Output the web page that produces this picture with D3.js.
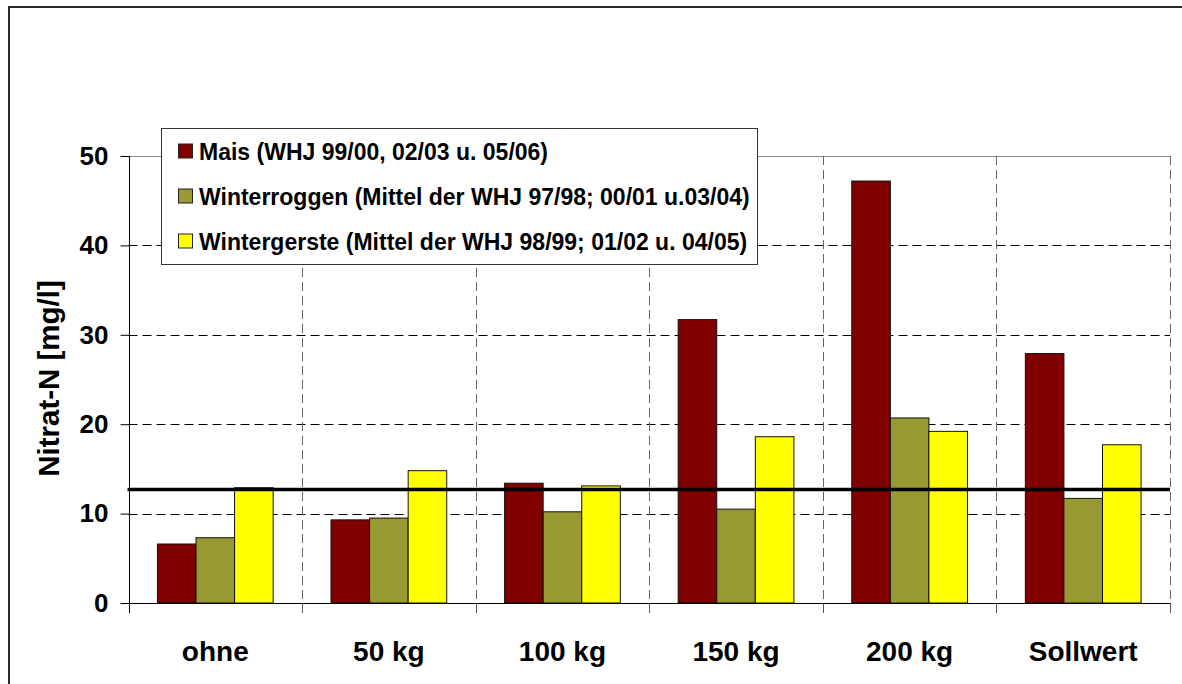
<!DOCTYPE html>
<html>
<head>
<meta charset="utf-8">
<script src="https://cdn.jsdelivr.net/npm/d3@7"></script>
<style>
  html, body { margin: 0; padding: 0; background: #fff; }
  svg { display: block; font-family: "Liberation Sans", Arial, sans-serif; font-weight: bold; }
</style>
</head>
<body>
<svg id="chart" width="1182" height="684"></svg>
<script>
// Nitrate-N in seepage water by N fertilisation level and crop
const categories = ["ohne", "50 kg", "100 kg", "150 kg", "200 kg", "Sollwert"];
const seriesNames = [
  "Mais (WHJ 99/00, 02/03 u. 05/06)",
  "Winterroggen (Mittel der WHJ 97/98; 00/01 u.03/04)",
  "Wintergerste (Mittel der WHJ 98/99; 01/02 u. 04/05)"
];
const mais         = [6.6, 9.3, 13.4, 31.7, 47.2, 27.9];
const winterroggen = [7.3, 9.5, 10.2, 10.5, 20.7, 11.7];
const wintergerste = [12.9, 14.8, 13.1, 18.6, 19.2, 17.7];
const seriesColors = ["#800000", "#999933", "#ffff00"];
const yTicks = [0, 10, 20, 30, 40, 50];
const limitValue = 12.7;   // reference limit line
const yTitle = "Nitrat-N [mg/l]";

const seriesValues = [mais, winterroggen, wintergerste];

const svg = d3.select("#chart");

// outer frame
svg.append("rect")
  .attr("x", 9).attr("y", 7).attr("width", 1200).attr("height", 700)
  .attr("fill", "none").attr("stroke", "#2a2a2a").attr("stroke-width", 2);

const plot = { left: 128.5, right: 1170, top: 156, bottom: 603 };

const x0 = d3.scaleBand().domain(categories).range([plot.left, plot.right]).padding(0);
const x1 = d3.scaleBand().domain(d3.range(seriesNames.length))
  .range([0, x0.bandwidth()]).paddingInner(0).paddingOuter(0.75);
const y = d3.scaleLinear().domain([0, 50]).range([plot.bottom, plot.top]);

// horizontal gridlines
svg.append("g").selectAll("line")
  .data(yTicks.filter(t => t > 0 && t < 50))
  .join("line")
  .attr("x1", plot.left).attr("x2", plot.right)
  .attr("y1", d => Math.round(y(d)) + 0.5).attr("y2", d => Math.round(y(d)) + 0.5)
  .attr("stroke", "#000").attr("stroke-width", 1).attr("stroke-dasharray", "9,5");

// plot area top border
svg.append("line")
  .attr("x1", plot.left).attr("x2", plot.right)
  .attr("y1", plot.top + 0.5).attr("y2", plot.top + 0.5)
  .attr("stroke", "#888").attr("stroke-width", 1);

// vertical gridlines at category boundaries (extend down as tick marks)
const bounds = categories.slice(1).map(c => x0(c)).concat([plot.right]);
svg.append("g").selectAll("line")
  .data(bounds)
  .join("line")
  .attr("x1", d => Math.round(d) + 0.5).attr("x2", d => Math.round(d) + 0.5)
  .attr("y1", plot.top).attr("y2", plot.bottom)
  .attr("stroke", "#666").attr("stroke-width", 1).attr("stroke-dasharray", "9,5");
svg.append("g").selectAll("line")
  .data(bounds)
  .join("line")
  .attr("x1", d => Math.round(d) + 0.5).attr("x2", d => Math.round(d) + 0.5)
  .attr("y1", plot.bottom).attr("y2", plot.bottom + 10)
  .attr("stroke", "#555").attr("stroke-width", 1);

// bars
const groups = svg.append("g").selectAll("g")
  .data(categories)
  .join("g")
  .attr("transform", d => `translate(${x0(d)},0)`);
groups.selectAll("rect")
  .data((c, ci) => seriesValues.map((vals, si) => ({ si, v: vals[ci] })))
  .join("rect")
  .attr("x", d => x1(d.si))
  .attr("width", x1.bandwidth())
  .attr("y", d => y(d.v))
  .attr("height", d => y(0) - y(d.v))
  .attr("fill", d => seriesColors[d.si])
  .attr("stroke", "#111").attr("stroke-width", 1);

// limit line
svg.append("line")
  .attr("x1", plot.left - 1).attr("x2", plot.right)
  .attr("y1", y(limitValue)).attr("y2", y(limitValue))
  .attr("stroke", "#000").attr("stroke-width", 3.5);

// y axis
const yAxis = svg.append("g")
  .attr("transform", `translate(${Math.round(plot.left) + 0.5},0)`)
  .call(d3.axisLeft(y).tickValues(yTicks).tickSize(9).tickPadding(12).tickSizeOuter(0));
yAxis.select(".domain").remove();
yAxis.selectAll(".tick line").attr("stroke", "#000");
yAxis.selectAll("text")
  .attr("font-size", 26).attr("font-weight", "bold")
  .attr("font-family", "'Liberation Sans', Arial, sans-serif").attr("fill", "#000");
svg.append("line")
  .attr("x1", Math.round(plot.left) + 0.5).attr("x2", Math.round(plot.left) + 0.5)
  .attr("y1", plot.top).attr("y2", plot.bottom + 10)
  .attr("stroke", "#000").attr("stroke-width", 1);

// x axis baseline
svg.append("line")
  .attr("x1", plot.left).attr("x2", plot.right)
  .attr("y1", plot.bottom + 0.5).attr("y2", plot.bottom + 0.5)
  .attr("stroke", "#000").attr("stroke-width", 1);

// category labels
svg.append("g").selectAll("text")
  .data(categories)
  .join("text")
  .attr("x", d => x0(d) + x0.bandwidth() / 2)
  .attr("y", 661)
  .attr("text-anchor", "middle")
  .attr("font-size", 28)
  .text(d => d);

// y axis title
svg.append("text")
  .attr("transform", "translate(59,378.5) rotate(-90)")
  .attr("text-anchor", "middle")
  .attr("font-size", 29.5)
  .text(yTitle);

// legend
const legend = svg.append("g");
legend.append("rect")
  .attr("x", 161.5).attr("y", 128.5).attr("width", 596).attr("height", 136)
  .attr("fill", "#fff").attr("stroke", "#333").attr("stroke-width", 1);
const rows = legend.selectAll("g.row")
  .data(seriesNames)
  .join("g")
  .attr("class", "row")
  .attr("transform", (d, i) => `translate(0,${151.5 + i * 45})`);
rows.append("rect")
  .attr("x", 178.5).attr("y", -7.5).attr("width", 14).attr("height", 14)
  .attr("fill", (d, i) => seriesColors[i]).attr("stroke", "#222").attr("stroke-width", 1);
rows.append("text")
  .attr("x", 199).attr("y", 8)
  .attr("font-size", 23)
  .text(d => d);
</script>
</body>
</html>
